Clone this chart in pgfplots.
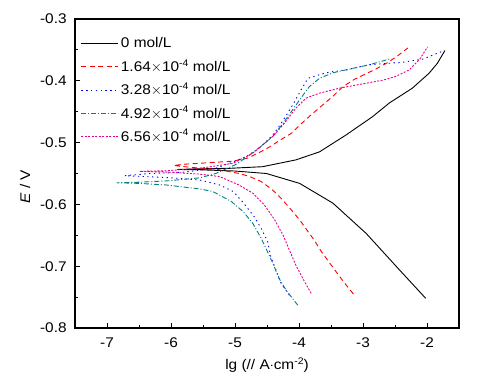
\documentclass[border=0pt]{standalone}
\usepackage{pgfplots}
\pgfplotsset{compat=1.18}
\usepackage{fontspec}
\setmainfont{Liberation Sans}[FakeStretch=1.1]
\definecolor{cteal}{RGB}{0,128,128}
\newcommand{\mysup}[1]{\raisebox{0.75ex}{\fontsize{9.5bp}{10bp}\selectfont #1}}
\begin{document}
\fontsize{14bp}{16bp}\selectfont
\begin{tikzpicture}
\useasboundingbox (-75bp,-54bp) rectangle (424bp,328bp);
\begin{axis}[
  scale only axis,
  width=384bp, height=309bp,
  xmin=-7.5, xmax=-1.5, ymin=-0.8, ymax=-0.3,
  xtick={-7,-6,-5,-4,-3,-2},
  ytick={-0.8,-0.7,-0.6,-0.5,-0.4,-0.3},
  minor x tick num=1, minor y tick num=1,
  tick pos=left, tick align=inside,
  major tick length=5bp, minor tick length=3bp,
  axis line style={line width=1.1bp},
  every tick/.style={line width=0.9bp, black},
  /pgf/number format/assume math mode=true,
  yticklabel style={/pgf/number format/fixed, /pgf/number format/precision=1, /pgf/number format/fixed zerofill, xshift=-3.5bp},
  xticklabel style={yshift=-5bp},
  ticklabel style={font=\fontsize{14bp}{16bp}\selectfont},
  xlabel={lg (// A$\cdot$cm\mysup{-2})},
  ylabel={\textit{E} / V},
  label style={font=\fontsize{14bp}{16bp}\selectfont},
  xlabel style={at={(axis description cs:0.5,-0.12)}, anchor=center},
  ylabel style={at={(axis description cs:-0.13,0.458)}, anchor=center, rotate=0},
  legend style={at={(axis description cs:0.01,0.96)}, anchor=north west, draw=none, fill=none,
    font=\fontsize{14bp}{16bp}\selectfont, row sep=3.2bp, inner sep=2bp,
    nodes={minimum height=20bp}},
  legend cell align=left,
  legend image code/.code={\draw[#1] (0bp,0bp) -- (37bp,0bp);},
  every axis plot/.append style={line width=0.9bp},
]
\addplot[black, solid] coordinates {
(-2.02,-0.752) (-2.43,-0.706) (-2.95,-0.647) (-3.47,-0.598) (-3.99,-0.566) (-4.51,-0.550) (-5.0,-0.546) (-5.55,-0.544) (-5.9,-0.5435)
(-5.6,-0.5425) (-5.08,-0.5416) (-4.57,-0.539) (-4.05,-0.528) (-3.68,-0.515) (-3.27,-0.488) (-2.85,-0.458) (-2.59,-0.436) (-2.23,-0.412) (-1.97,-0.388) (-1.84,-0.372) (-1.72,-0.351)};
\addlegendentry{0 mol/L}
\addplot[red, dash pattern=on 5bp off 3.5bp] coordinates {
(-3.15,-0.745) (-3.29,-0.727) (-3.42,-0.709) (-3.54,-0.692) (-3.66,-0.675) (-3.76,-0.658) (-3.88,-0.641) (-3.99,-0.625) (-4.12,-0.609) (-4.28,-0.590) (-4.41,-0.577) (-4.59,-0.563) (-4.77,-0.555) (-4.93,-0.550) (-5.3,-0.543) (-5.7,-0.540) (-5.96,-0.537)
(-5.8,-0.535) (-5.55,-0.5335) (-5.03,-0.530) (-4.8,-0.525) (-4.62,-0.516) (-4.46,-0.507) (-4.31,-0.497) (-4.12,-0.485) (-3.97,-0.470) (-3.81,-0.455) (-3.63,-0.439) (-3.47,-0.425) (-3.32,-0.410) (-3.14,-0.398) (-2.98,-0.390) (-2.80,-0.381) (-2.64,-0.372) (-2.49,-0.362) (-2.30,-0.347)};
\addlegendentry{1.64$\times$10\mysup{-4} mol/L}
\addplot[blue, dash pattern=on 1.3bp off 3.5bp] coordinates {
(-4.15,-0.747) (-4.28,-0.728) (-4.36,-0.706) (-4.44,-0.685) (-4.49,-0.660) (-4.59,-0.639) (-4.70,-0.620) (-4.88,-0.596) (-5.03,-0.579) (-5.24,-0.5686) (-5.55,-0.5605) (-6.0,-0.557) (-6.4,-0.555) (-6.72,-0.5535)
(-6.33,-0.550) (-5.81,-0.548) (-5.29,-0.541) (-5.1,-0.534) (-4.83,-0.523) (-4.62,-0.509) (-4.41,-0.488) (-4.28,-0.469) (-4.18,-0.453) (-4.07,-0.434) (-3.97,-0.415) (-3.86,-0.396) (-3.71,-0.391) (-3.53,-0.386) (-3.27,-0.3825) (-2.90,-0.374) (-2.64,-0.372) (-2.38,-0.370) (-2.07,-0.365) (-1.73,-0.351)};
\addlegendentry{3.28$\times$10\mysup{-4} mol/L}
\addplot[cteal, dash pattern=on 5bp off 2bp on 1bp off 2bp] coordinates {
(-4.02,-0.763) (-4.20,-0.739) (-4.31,-0.720) (-4.41,-0.695) (-4.49,-0.677) (-4.59,-0.655) (-4.72,-0.631) (-4.87,-0.612) (-5.06,-0.595) (-5.35,-0.579) (-5.55,-0.575) (-6.07,-0.5686) (-6.5,-0.566) (-6.85,-0.565)
(-6.49,-0.564) (-6.07,-0.562) (-5.55,-0.557) (-5.3,-0.550) (-4.98,-0.535) (-4.77,-0.520) (-4.57,-0.504) (-4.41,-0.490) (-4.25,-0.469) (-4.10,-0.447) (-3.97,-0.428) (-3.84,-0.4095) (-3.68,-0.396) (-3.47,-0.387) (-3.21,-0.381) (-2.90,-0.374) (-2.56,-0.364)};
\addlegendentry{4.92$\times$10\mysup{-4} mol/L}
\addplot[magenta, dash pattern=on 2bp off 1.5bp] coordinates {
(-3.81,-0.744) (-3.94,-0.720) (-4.05,-0.698) (-4.15,-0.674) (-4.25,-0.6495) (-4.38,-0.625) (-4.54,-0.601) (-4.72,-0.582) (-4.93,-0.569) (-5.24,-0.555) (-5.55,-0.551) (-6.0,-0.548) (-6.49,-0.5465)
(-6.07,-0.5455) (-5.55,-0.5416) (-5.03,-0.5335) (-4.72,-0.517) (-4.57,-0.504) (-4.41,-0.490) (-4.23,-0.469) (-4.05,-0.4445) (-3.89,-0.428) (-3.68,-0.420) (-3.37,-0.412) (-3.01,-0.405) (-2.69,-0.399) (-2.49,-0.393) (-2.28,-0.3825) (-2.12,-0.366) (-1.99,-0.345)};
\addlegendentry{6.56$\times$10\mysup{-4} mol/L}
\end{axis}
\end{tikzpicture}
\end{document}
